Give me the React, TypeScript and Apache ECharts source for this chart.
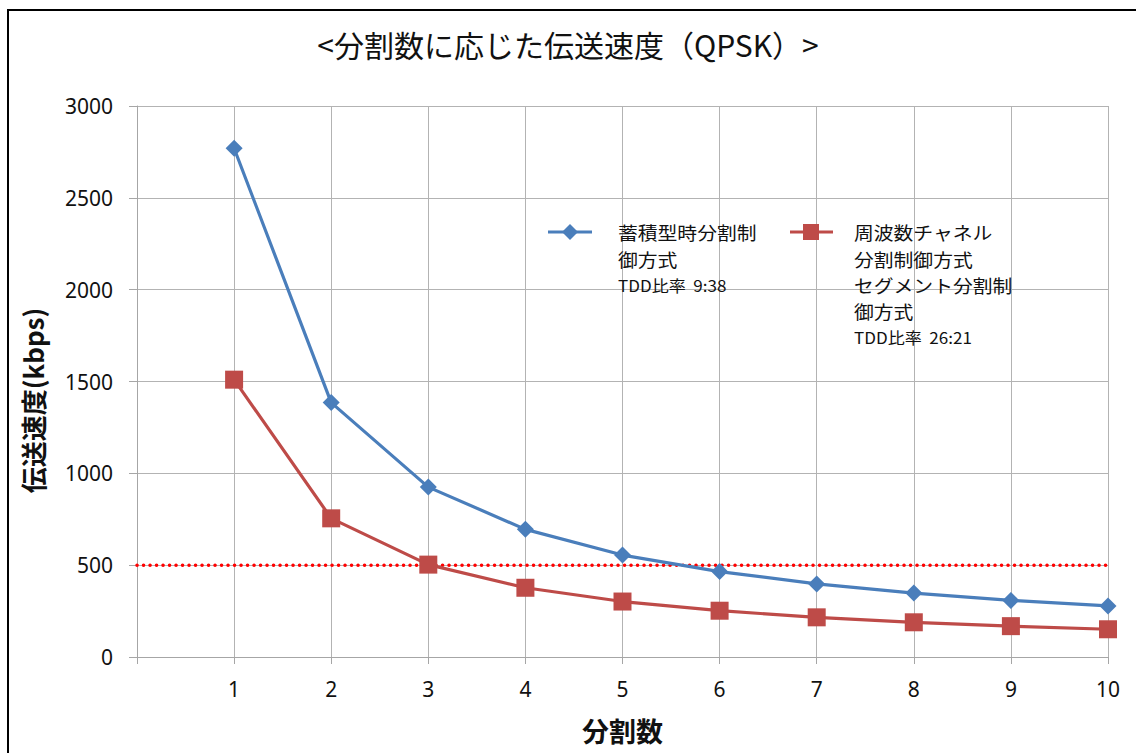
import React, { useEffect, useRef } from "react";
import * as echarts from "echarts";

const titleText = "<分割数に応じた伝送速度（QPSK）>";
const xName = "分割数";
const yName = "伝送速度(kbps)";
const divisions = [1, 2, 3, 4, 5, 6, 7, 8, 9, 10];
const seriesTDM = [2770, 1385, 925, 695, 555, 465, 398, 348, 308, 278];
const seriesFDM = [1510, 755, 503, 377, 302, 252, 216, 189, 168, 151];
const thresholdX = [0, 10];
const thresholdY = 500;
const legendTDM = ["蓄積型時分割制", "御方式", "TDD比率\u00a0\u00a09:38"];
const legendFDM = ["周波数チャネル", "分割制御方式", "セグメント分割制", "御方式", "TDD比率\u00a0\u00a026:21"];

const BLUE = "#4a7ebb";
const RED = "#be4b48";
const JP = "'Noto Sans CJK JP', 'Noto Sans', sans-serif";
const NUM = "'Noto Sans', 'Noto Sans CJK JP', sans-serif";
const LH = 26.4;

function legendText(lines: string[], x: number, y: number) {
  const text = lines
    .map((l) => (l.startsWith("TDD") ? `{s|${l}}` : `{b|${l}}`))
    .join("\n");
  return {
    type: "text",
    x,
    y,
    scaleX: 1.1,
    style: {
      text,
      fontFamily: JP,
      fontSize: 18,
      lineHeight: LH,
      verticalAlign: "top",
      align: "left",
      fill: "#111",
      rich: {
        b: { fontFamily: JP, fontSize: 18, lineHeight: LH, fill: "#111" },
        s: { fontFamily: JP, fontSize: 15.5, lineHeight: LH, fill: "#111" },
      },
    },
    z: 100,
  };
}

export default function App() {
  const ref = useRef<HTMLDivElement>(null);
  useEffect(() => {
    if (!ref.current) return;
    const chart = echarts.init(ref.current, null, { renderer: "svg" });
    chart.setOption({
      animation: false,
      backgroundColor: "#ffffff",
      title: {
        text: titleText,
        left: "center",
        top: 24,
        textStyle: { fontFamily: JP, fontSize: 30, fontWeight: "normal", color: "#111" },
      },
      grid: { left: 137, right: 28, top: 106, bottom: 96, containLabel: false },
      xAxis: {
        type: "value",
        min: 0,
        max: 10,
        interval: 1,
        name: xName,
        nameLocation: "middle",
        nameGap: 60,
        nameTextStyle: { fontFamily: JP, fontSize: 27, fontWeight: "bold", color: "#111" },
        axisLine: { show: true, lineStyle: { color: "#a6a6a6", width: 1 } },
        axisTick: { show: true, length: 7, lineStyle: { color: "#a6a6a6" } },
        axisLabel: {
          margin: 21,
          fontFamily: NUM,
          fontSize: 21,
          color: "#111",
          formatter: (v: number) => (v === 0 ? "" : String(v)),
        },
        splitLine: { show: true, lineStyle: { color: "#b3b3b3", width: 1 } },
      },
      yAxis: {
        type: "value",
        min: 0,
        max: 3000,
        interval: 500,
        name: yName,
        nameLocation: "middle",
        nameGap: 92,
        nameTextStyle: {
          fontFamily: JP,
          fontSize: 26,
          fontWeight: "bold",
          color: "#111",
          padding: [0, 38, 0, 0],
        },
        axisLine: { show: true, lineStyle: { color: "#a6a6a6", width: 1 } },
        axisTick: { show: true, length: 8, lineStyle: { color: "#a6a6a6" } },
        axisLabel: {
          margin: 24,
          fontFamily: NUM,
          fontSize: 21,
          color: "#111",
          formatter: (v: number) => String(v),
        },
        splitLine: { show: true, lineStyle: { color: "#b3b3b3", width: 1 } },
      },
      series: [
        {
          name: "threshold",
          type: "line",
          data: thresholdX.map((x) => [x, thresholdY]),
          symbol: "none",
          lineStyle: { color: "#ff0000", width: 3.5, type: [0.1, 6.4], cap: "round" },
          z: 1,
        },
        {
          name: legendTDM.join(""),
          type: "line",
          data: divisions.map((d, i) => [d, seriesTDM[i]]),
          symbol: "diamond",
          symbolSize: 17,
          itemStyle: { color: BLUE },
          lineStyle: { color: BLUE, width: 3.2 },
          z: 3,
        },
        {
          name: legendFDM.join(""),
          type: "line",
          data: divisions.map((d, i) => [d, seriesFDM[i]]),
          symbol: "rect",
          symbolSize: 18,
          itemStyle: { color: RED },
          lineStyle: { color: RED, width: 3.2 },
          z: 2,
        },
      ],
      graphic: [
        {
          type: "rect",
          shape: { x: 8, y: 10, width: 1200, height: 800 },
          style: { fill: "none", stroke: "#000", lineWidth: 2 },
          z: 100,
        },
        {
          type: "line",
          shape: { x1: 548, y1: 232, x2: 592, y2: 232 },
          style: { stroke: BLUE, lineWidth: 3 },
          z: 100,
        },
        {
          type: "polygon",
          shape: { points: [[570, 224], [578, 232], [570, 240], [562, 232]] },
          style: { fill: BLUE },
          z: 101,
        },
        {
          type: "line",
          shape: { x1: 790, y1: 232, x2: 833, y2: 232 },
          style: { stroke: RED, lineWidth: 3 },
          z: 100,
        },
        {
          type: "rect",
          shape: { x: 803, y: 224, width: 16, height: 16 },
          style: { fill: RED },
          z: 101,
        },
        legendText(legendTDM, 618, 219),
        legendText(legendFDM, 854, 219),
      ],
    });
    return () => chart.dispose();
  }, []);
  return (
    <div
      ref={ref}
      style={{ position: "absolute", left: 0, top: 0, width: 1136, height: 753 }}
    />
  );
}
